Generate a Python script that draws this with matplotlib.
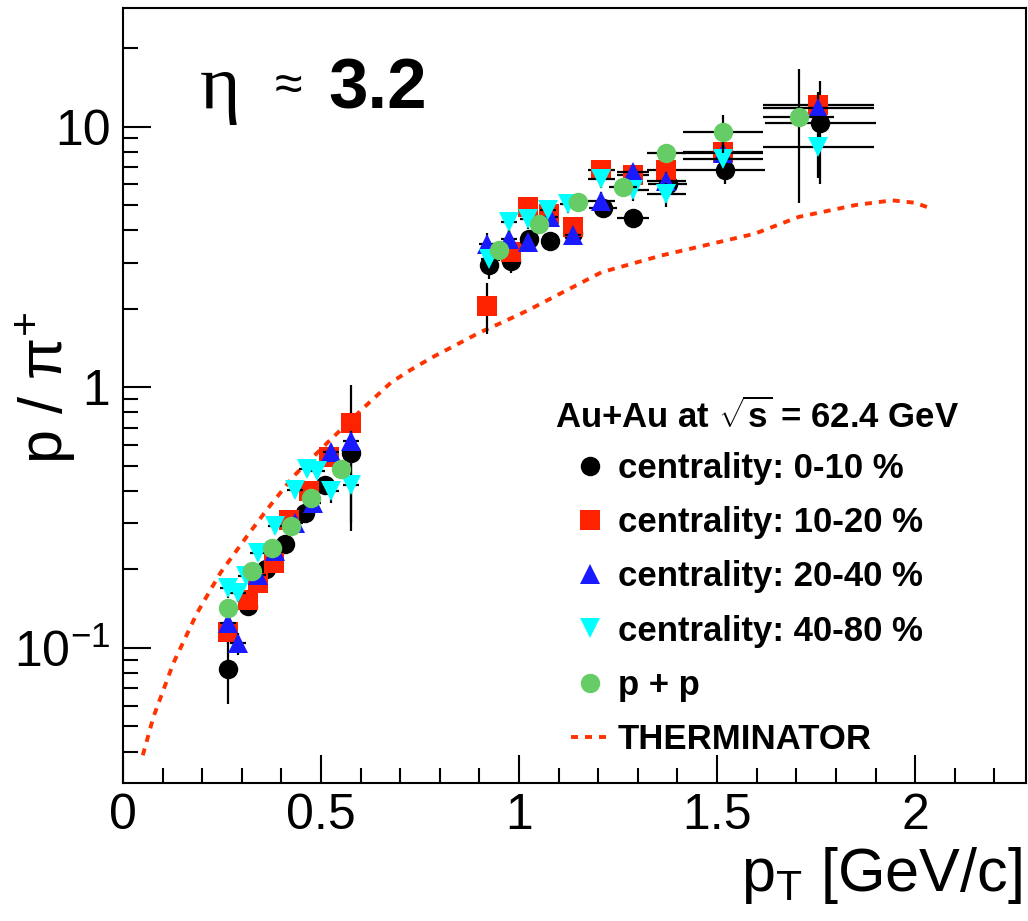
import matplotlib
matplotlib.use("Agg")
import matplotlib.pyplot as plt
from matplotlib.ticker import MultipleLocator, FixedLocator, FixedFormatter, LogLocator, NullFormatter, FuncFormatter

plt.rcParams['font.family'] = ['Liberation Sans', 'DejaVu Sans']
plt.rcParams['mathtext.fontset'] = 'custom'
plt.rcParams['mathtext.rm'] = 'Liberation Sans'
plt.rcParams['mathtext.it'] = 'Liberation Sans:italic'
plt.rcParams['mathtext.bf'] = 'Liberation Sans:bold'

# centrality 0-10 %
c0_x = [0.265, 0.315, 0.36, 0.41, 0.46, 0.51, 0.575,
        0.925, 0.98, 1.025, 1.078, 1.137, 1.212, 1.288, 1.375, 1.52, 1.76]
c0_y = [0.083, 0.145, 0.20, 0.25, 0.33, 0.42, 0.56,
        2.95, 3.05, 3.7, 3.65, 3.9, 4.85, 4.45, 6.0, 6.8, 10.3]
c0_xe = [0.02, 0.02, 0.02, 0.02, 0.02, 0.02, 0.02,
         0.02, 0.02, 0.02, 0.02, 0.02, 0.035, 0.04, 0.05, 0.1, 0.14]
c0_lo = [0.022, 0.012, 0.012, 0.015, 0.02, 0.03, 0.28,
         0.35, 0.3, 0.3, 0.3, 0.3, 0.35, 0.35, 0.6, 0.8, 4.3]
c0_hi = [0.022, 0.012, 0.012, 0.015, 0.02, 0.03, 0.46,
         0.35, 0.3, 0.3, 0.3, 0.3, 0.35, 0.35, 0.6, 0.8, 4.7]

# centrality 10-20 %
c1_x = [0.265, 0.315, 0.34, 0.38, 0.42, 0.47, 0.52, 0.575,
        0.92, 0.98, 1.022, 1.075, 1.136, 1.208, 1.288, 1.372, 1.515, 1.756]
c1_y = [0.115, 0.153, 0.177, 0.212, 0.31, 0.40, 0.54, 0.73,
        2.05, 3.3, 4.9, 4.6, 4.1, 6.8, 6.5, 6.8, 8.0, 12.1]
c1_xe = [0.02, 0.02, 0.02, 0.02, 0.02, 0.02, 0.02, 0.02,
         0.02, 0.02, 0.02, 0.02, 0.02, 0.035, 0.04, 0.05, 0.1, 0.14]
c1_lo = [0.012, 0.012, 0.012, 0.015, 0.02, 0.025, 0.035, 0.07,
         0.45, 0.3, 0.35, 0.35, 0.35, 0.4, 0.4, 0.5, 0.8, 1.5]
c1_hi = [0.012, 0.012, 0.012, 0.015, 0.02, 0.025, 0.035, 0.07,
         0.45, 0.3, 0.35, 0.35, 0.35, 0.4, 0.4, 0.5, 0.8, 1.5]

# centrality 20-40 %
c2_x = [0.265, 0.29, 0.34, 0.385, 0.435, 0.48, 0.525, 0.575,
        0.92, 0.975, 1.022, 1.078, 1.136, 1.208, 1.288, 1.372, 1.515, 1.756]
c2_y = [0.124, 0.104, 0.19, 0.235, 0.30, 0.36, 0.565, 0.62,
        3.55, 3.7, 3.6, 4.5, 3.82, 5.2, 6.7, 6.2, 7.9, 11.8]
c2_xe = [0.02, 0.02, 0.02, 0.02, 0.02, 0.02, 0.02, 0.02,
         0.02, 0.02, 0.02, 0.02, 0.02, 0.035, 0.04, 0.05, 0.1, 0.14]
c2_lo = [0.01, 0.01, 0.012, 0.015, 0.02, 0.025, 0.04, 0.06,
         0.35, 0.3, 0.3, 0.35, 0.3, 0.4, 0.5, 0.5, 0.8, 1.4]
c2_hi = [0.01, 0.01, 0.012, 0.015, 0.02, 0.025, 0.04, 0.06,
         0.35, 0.3, 0.3, 0.35, 0.3, 0.4, 0.5, 0.5, 0.8, 1.4]

# centrality 40-80 %
c3_x = [0.265, 0.29, 0.31, 0.34, 0.385, 0.435, 0.465, 0.49, 0.525, 0.575,
        0.925, 0.975, 1.022, 1.073, 1.123, 1.208, 1.288, 1.372, 1.515, 1.756]
c3_y = [0.17, 0.162, 0.188, 0.231, 0.293, 0.405, 0.484, 0.477, 0.40, 0.42,
        3.1, 4.3, 4.4, 4.77, 5.06, 6.3, 5.7, 5.5, 7.5, 8.35]
c3_xe = [0.02, 0.02, 0.02, 0.02, 0.02, 0.02, 0.02, 0.02, 0.02, 0.02,
         0.02, 0.02, 0.02, 0.02, 0.02, 0.035, 0.04, 0.05, 0.1, 0.14]
c3_lo = [0.014, 0.012, 0.012, 0.015, 0.02, 0.03, 0.03, 0.03, 0.04, 0.12,
         0.3, 0.35, 0.35, 0.35, 0.4, 0.5, 0.5, 0.6, 0.8, 2.0]
c3_hi = [0.014, 0.012, 0.012, 0.015, 0.02, 0.03, 0.03, 0.03, 0.04, 0.12,
         0.3, 0.35, 0.35, 0.35, 0.4, 0.5, 0.5, 0.6, 0.8, 2.0]

# p + p
pp_x = [0.265, 0.325, 0.375, 0.425, 0.475, 0.55,
        0.95, 1.051, 1.148, 1.263, 1.372, 1.515, 1.706]
pp_y = [0.142, 0.197, 0.242, 0.293, 0.376, 0.484,
        3.35, 4.24, 5.13, 5.86, 7.9, 9.5, 10.9]
pp_xe = [0.02, 0.02, 0.02, 0.02, 0.02, 0.02,
         0.02, 0.02, 0.02, 0.035, 0.05, 0.1, 0.09]
pp_lo = [0.01, 0.012, 0.012, 0.015, 0.02, 0.03,
         0.3, 0.3, 0.35, 0.4, 0.6, 1.6, 5.8]
pp_hi = [0.01, 0.012, 0.012, 0.015, 0.02, 0.03,
         0.3, 0.3, 0.35, 0.4, 0.6, 1.6, 5.8]

# THERMINATOR
th_x = [0.05, 0.077, 0.127, 0.187, 0.246, 0.313, 0.364, 0.431, 0.516, 0.608, 0.676,
        0.72, 0.78, 0.84, 0.90, 0.96, 1.022, 1.208, 1.359, 1.595, 1.706, 1.85, 1.942, 2.0, 2.04]
th_y = [0.0387, 0.0544, 0.0873, 0.136, 0.194, 0.268, 0.34, 0.456, 0.612, 0.835, 1.04,
        1.15, 1.3, 1.45, 1.62, 1.78, 1.97, 2.76, 3.2, 3.88, 4.5, 5.0, 5.21, 5.1, 4.85]

series = [
    (c0_x, c0_y, c0_xe, c0_lo, c0_hi, 'o', 'black', 'centrality: 0-10 %'),
    (c1_x, c1_y, c1_xe, c1_lo, c1_hi, 's', '#ff2200', 'centrality: 10-20 %'),
    (c2_x, c2_y, c2_xe, c2_lo, c2_hi, '^', '#1a1aff', 'centrality: 20-40 %'),
    (c3_x, c3_y, c3_xe, c3_lo, c3_hi, 'v', '#00ffff', 'centrality: 40-80 %'),
    (pp_x, pp_y, pp_xe, pp_lo, pp_hi, 'o', '#66cc66', 'p + p'),
]

fig = plt.figure(figsize=(10.28, 9.21), dpi=100)
ax = fig.add_axes([123/1028, 1-783/921, (1026-123)/1028, (783-8)/921])

handles = []
labels = []
for i, (x, y, xe, lo, hi, m, c, lab) in enumerate(series):
    eb = ax.errorbar(x, y, xerr=xe, yerr=[lo, hi], fmt=m, color=c, ms=14, mew=0,
                     ecolor='black', elinewidth=1.6, capsize=0, zorder=3+i)
    handles.append(eb[0])
    labels.append(lab)

th_line, = ax.plot(th_x, th_y, color='#ff3300', lw=2.8, dashes=(1.8, 1.8), zorder=2)
handles.append(th_line)
labels.append('THERMINATOR')

ax.set_yscale('log')
ax.set_xlim(0, 2.28)
ax.set_ylim(0.0303, 28.5)

ax.xaxis.set_major_locator(MultipleLocator(0.5))
ax.xaxis.set_minor_locator(MultipleLocator(0.1))
ax.xaxis.set_major_formatter(FuncFormatter(lambda v, p: '%g' % v))
ax.yaxis.set_major_locator(FixedLocator([0.1, 1, 10]))
ax.yaxis.set_major_formatter(FixedFormatter([r'$10^{-1}$', '1', '10']))
ax.yaxis.set_minor_locator(LogLocator(base=10, subs=[2, 3, 4, 5, 6, 7, 8, 9]))
ax.yaxis.set_minor_formatter(NullFormatter())

ax.tick_params(which='both', direction='in', top=False, right=False, width=1.5)
ax.tick_params(which='major', length=20, labelsize=36)
ax.tick_params(which='minor', length=11)
ax.tick_params(axis='x', which='major', pad=7)
ax.tick_params(axis='y', which='major', pad=9)
for s in ax.spines.values():
    s.set_linewidth(1.5)

ax.set_xlabel(r'p$_{\rm T}$ [GeV/c]', fontsize=44, loc='right')
ax.xaxis.set_label_coords(0.9956, -0.08)
ax.set_ylabel('p / π$^{+}$', fontsize=44)
ax.yaxis.set_label_coords(-0.05, 0.51)

# eta label
fig.text(200/1028, 1-108/921, 'η', family='Liberation Serif', fontsize=56, ha='left', va='baseline')
fig.text(275/1028, 1-87/921, '≈', fontsize=36, ha='left', va='center')
fig.text(328/1028, 1-108/921, '3.2', fontsize=51, weight='bold', ha='left', va='baseline')

# legend header
fig.text(555/1028, 1-428/921, r'Au+Au at $\sqrt{\mathbf{s}}$ = 62.4 GeV',
         fontsize=25, weight='bold', ha='left', va='baseline')

ax.legend(handles, labels, loc='upper left', bbox_to_anchor=(571/1028, 1-452/921),
          bbox_transform=fig.transFigure, frameon=False,
          prop={'weight': 'bold', 'size': 25},
          handlelength=1.1, handletextpad=0.25,
          labelspacing=0.61, borderpad=0, borderaxespad=0, numpoints=1)

fig.savefig('out.png', dpi=100)
